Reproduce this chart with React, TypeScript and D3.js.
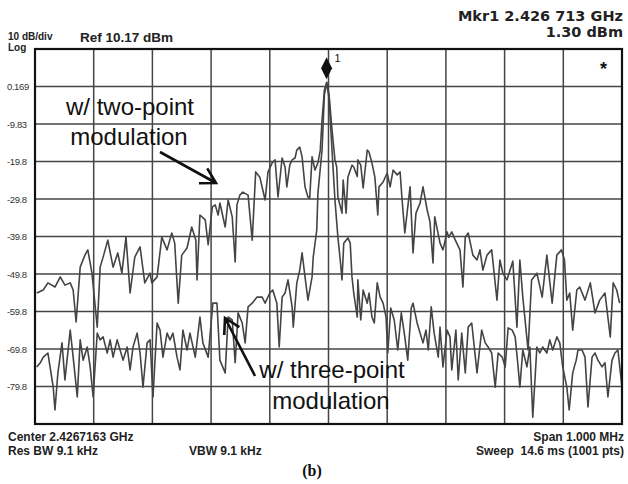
import React from "react";
import * as d3 from "d3";

// Frequency offset from center (kHz), level (dBm)
const twoPointFreq = [-497,-486,-478,-466,-457,-449,-440,-435,-430,-423,-415,-410,-403,-394,-389,-383,-376,-367,-359,-352,-345,-338,-330,-321,-313,-304,-301,-292,-284,-275,-267,-262,-256,-250,-241,-233,-226,-224,-219,-210,-205,-198,-193,-188,-185,-176,-171,-164,-159,-156,-151,-146,-137,-130,-124,-117,-108,-103,-96,-91,-86,-79,-74,-71,-66,-62,-57,-54,-49,-45,-40,-35,-32,-28,-23,-18,-14,-11,-7,-3,1,6,11,14,16,23,25,30,33,40,43,49,50,55,59,66,69,74,79,84,86,93,100,105,110,117,122,125,130,135,139,144,149,156,161,168,173,178,181,190,195,202,205,210,216,224,229,233,238,246,253,258,263,270,278,287,292,297,304,314,321,326,331,340,346,355,364,372,381,389,397,402,406,411,416,423,428,437,446,454,462,471,480,485,491,496,500];
const twoPointLevel = [-54.9,-54.1,-52.2,-53.3,-50.6,-52.8,-52.2,-54.1,-62.6,-48.0,-44.8,-43.4,-49.6,-64.0,-48.0,-44.8,-40.8,-48.0,-44.2,-49.6,-40.0,-54.9,-45.3,-42.6,-52.2,-49.6,-52.2,-50.6,-40.0,-43.4,-38.9,-41.6,-57.6,-44.8,-42.9,-37.3,-40.8,-51.4,-34.1,-35.4,-42.0,-32.0,-31.4,-34.1,-30.9,-37.3,-30.1,-34.6,-46.6,-31.4,-28.8,-28.0,-28.8,-40.8,-22.6,-24.0,-30.1,-22.6,-20.2,-19.4,-29.3,-18.9,-21.3,-26.6,-20.8,-19.4,-18.9,-16.8,-16.0,-18.6,-26.6,-29.3,-29.6,-18.6,-22.1,-20.2,-16.8,-8.8,-0.8,1.3,-2.1,-11.4,-19.4,-21.3,-29.3,-33.6,-24.8,-33.6,-24.0,-20.8,-21.3,-23.8,-19.4,-20.8,-26.9,-16.8,-17.3,-20.2,-24.0,-34.1,-26.6,-25.3,-22.9,-26.6,-22.1,-23.4,-22.6,-29.3,-38.9,-32.0,-26.6,-44.2,-33.6,-30.9,-26.6,-32.7,-36.0,-46.9,-34.6,-41.6,-43.4,-38.6,-40.0,-38.6,-40.8,-43.4,-53.3,-40.0,-38.9,-44.8,-46.1,-43.4,-48.8,-44.8,-43.4,-56.8,-46.1,-49.6,-51.4,-46.4,-64.0,-46.1,-56.0,-70.1,-51.4,-49.6,-56.0,-44.8,-57.6,-44.8,-43.4,-46.1,-56.8,-54.9,-64.8,-54.1,-53.3,-56.8,-52.2,-60.2,-56.8,-54.9,-66.6,-52.2,-54.1,-57.6];

const threePointFreq = [-497,-491,-486,-478,-469,-466,-461,-454,-449,-440,-435,-428,-423,-418,-411,-406,-401,-394,-389,-384,-377,-372,-367,-360,-355,-350,-343,-338,-333,-326,-321,-316,-309,-304,-299,-292,-287,-282,-275,-270,-265,-258,-253,-248,-241,-236,-227,-219,-214,-205,-197,-190,-185,-176,-171,-164,-159,-154,-147,-142,-137,-130,-122,-113,-108,-100,-95,-88,-84,-79,-74,-69,-62,-60,-54,-49,-45,-40,-35,-28,-26,-20,-18,-11,-7,-3,1,6,11,16,20,23,26,33,37,40,43,49,50,55,59,66,69,74,78,83,88,93,98,101,106,112,118,124,130,135,141,144,151,156,161,166,170,175,180,187,190,195,202,207,210,217,221,227,233,238,244,253,261,267,272,278,284,289,296,301,306,313,318,323,326,331,338,343,348,355,360,365,372,377,382,389,394,399,406,410,416,422,425,432,437,442,449,454,459,466,471,476,483,488,493,500];
const threePointLevel = [-74.6,-73.5,-72.0,-70.9,-80.0,-86.1,-76.2,-68.2,-78.1,-64.8,-72.0,-82.6,-67.4,-72.8,-69.3,-74.6,-82.6,-65.6,-67.4,-66.6,-70.9,-67.4,-72.0,-67.4,-70.1,-72.8,-69.3,-75.4,-69.3,-65.6,-70.9,-80.0,-68.2,-67.4,-82.6,-62.9,-64.8,-72.0,-65.6,-67.4,-65.6,-72.0,-75.4,-64.8,-70.1,-65.6,-72.0,-61.3,-68.2,-72.0,-57.6,-57.6,-72.8,-76.2,-61.3,-62.1,-73.5,-60.2,-62.9,-68.2,-58.6,-57.6,-56.0,-56.0,-57.6,-54.9,-54.1,-57.6,-69.3,-56.0,-54.9,-51.4,-58.6,-64.0,-52.2,-48.8,-44.2,-50.6,-56.8,-50.6,-45.3,-38.1,-28.2,-16.8,-2.0,1.1,-3.0,-16.8,-30.1,-40.0,-46.1,-51.4,-41.6,-40.2,-41.6,-50.6,-54.9,-61.3,-51.4,-62.1,-54.1,-57.6,-54.9,-61.3,-62.9,-52.2,-56.0,-57.6,-61.3,-70.9,-58.9,-62.1,-70.1,-60.2,-66.6,-72.8,-58.9,-57.6,-62.9,-65.6,-68.2,-64.8,-70.1,-58.6,-65.6,-72.0,-64.0,-74.6,-64.8,-66.6,-75.4,-64.8,-78.1,-65.6,-76.2,-64.0,-62.9,-76.2,-64.8,-68.2,-69.3,-70.9,-80.0,-70.9,-72.0,-74.6,-64.2,-64.8,-66.6,-74.6,-80.0,-70.1,-74.6,-69.3,-88.0,-69.3,-70.9,-69.3,-70.9,-67.4,-70.1,-66.6,-68.2,-74.6,-80.0,-86.1,-76.2,-72.8,-70.1,-70.1,-72.0,-85.3,-72.0,-70.9,-72.8,-74.6,-73.5,-82.6,-72.8,-70.9,-70.1,-80.0];

const refLevel = 10.17;
const dbPerDiv = 10;
const spanKHz = 1000;
const yTickLabels = ["0.169", "-9.83", "-19.8", "-29.8", "-39.8", "-49.8", "-59.8", "-69.8", "-79.8"];
const markerFreqGHz = 2.426713;
const centerFreqGHz = 2.4267163;
const markerLevel = 1.3;

const W = 628, H = 484;
const L = 35, R = 622, T = 49, B = 424;

function arrow(x1: number, y1: number, x2: number, y2: number, len = 17, ang = 30) {
  const a = Math.atan2(y2 - y1, x2 - x1);
  const r = (ang * Math.PI) / 180;
  const b1x = x2 - len * Math.cos(a - r), b1y = y2 - len * Math.sin(a - r);
  const b2x = x2 - len * Math.cos(a + r), b2y = y2 - len * Math.sin(a + r);
  return `M${x1},${y1}L${x2},${y2}M${b1x},${b1y}L${x2},${y2}L${b2x},${b2y}`;
}

export default function App() {
  const x = d3.scaleLinear().domain([-spanKHz / 2, spanKHz / 2]).range([L, R]);
  const y = d3.scaleLinear().domain([refLevel - 10 * dbPerDiv, refLevel]).range([B, T]);
  const line = d3.line<[number, number]>().x((d) => x(d[0])).y((d) => y(Math.max(d[1], refLevel - 100)));
  const two = twoPointFreq.map((f, i) => [f, twoPointLevel[i]] as [number, number]);
  const three = threePointFreq.map((f, i) => [f, threePointLevel[i]] as [number, number]);
  const xGrid = d3.range(-500, 501, 100);
  const yGrid = d3.range(0, 11).map((i) => refLevel - i * dbPerDiv);
  const mx = x((markerFreqGHz - centerFreqGHz) * 1e6);
  const my = y(markerLevel) - 14;
  const sans = "'Liberation Sans', Arial, sans-serif";
  const bold = "'DejaVu Sans', 'Liberation Sans', sans-serif";
  return (
    <svg width={W} height={H} style={{ position: "absolute", left: 0, top: 0, background: "#fff" }} fontFamily={sans}>
      <rect x={0} y={0} width={W} height={H} fill="#fff" />
      {xGrid.map((v) => (
        <line key={"x" + v} x1={x(v)} x2={x(v)} y1={T} y2={B} stroke="#454545" strokeWidth={1.5} />
      ))}
      {yGrid.map((v, i) => (
        <line key={"y" + i} x1={L} x2={R} y1={y(v)} y2={y(v)} stroke="#454545" strokeWidth={1.5} />
      ))}
      <path d={line(two) || ""} fill="none" stroke="#444" strokeWidth={1.6} strokeLinejoin="round" />
      <path d={line(three) || ""} fill="none" stroke="#444" strokeWidth={1.6} strokeLinejoin="round" />
      <rect x={L} y={T} width={R - L} height={B - T} fill="none" stroke="#111" strokeWidth={2.2} />
      {yTickLabels.map((t, i) => (
        <text key={t} x={7} y={y(refLevel - (i + 1) * dbPerDiv) + 3.5} fontSize={9.5} fill="#333" letterSpacing={-0.4}>{t}</text>
      ))}
      <path d={`M${mx},${my - 11}L${mx + 5.5},${my}L${mx},${my + 11}L${mx - 5.5},${my}Z`} fill="#111" />
      <text x={mx + 8} y={62} fontSize={11} fill="#111">1</text>
      <text x={600} y={75} fontSize={18} fontWeight="bold" fill="#111">*</text>
      <text x={8} y={40} fontSize={10} fontWeight="bold" fill="#222">10 dB/div</text>
      <text x={8} y={51} fontSize={10} fontWeight="bold" fill="#222">Log</text>
      <text x={80} y={42} fontSize={13.5} fontWeight="bold" fill="#222">Ref 10.17 dBm</text>
      <text x={623} y={21} fontSize={14.5} fontWeight="bold" fill="#222" textAnchor="end" fontFamily={bold}>Mkr1 2.426 713 GHz</text>
      <text x={623} y={37} fontSize={14.5} fontWeight="bold" fill="#222" textAnchor="end" fontFamily={bold}>1.30 dBm</text>
      <text x={130} y={115} fontSize={24} fill="#111" textAnchor="middle">w/ two-point</text>
      <text x={129} y={145} fontSize={24} fill="#111" textAnchor="middle">modulation</text>
      <path d={arrow(160, 152, 216, 183)} fill="none" stroke="#111" strokeWidth={2.6} />
      <text x={332} y={378} fontSize={24} fill="#111" textAnchor="middle">w/ three-point</text>
      <text x={331} y={409} fontSize={24} fill="#111" textAnchor="middle">modulation</text>
      <path d={arrow(255, 376, 225, 318)} fill="none" stroke="#111" strokeWidth={2.6} />
      <text x={8} y={441} fontSize={12} fontWeight="bold" fill="#222">Center 2.4267163 GHz</text>
      <text x={8} y={455} fontSize={12} fontWeight="bold" fill="#222">Res BW 9.1 kHz</text>
      <text x={189} y={455} fontSize={12} fontWeight="bold" fill="#222">VBW 9.1 kHz</text>
      <text x={624} y={441} fontSize={12} fontWeight="bold" fill="#222" textAnchor="end">Span 1.000 MHz</text>
      <text x={624} y={455} fontSize={12} fontWeight="bold" fill="#222" textAnchor="end" style={{ whiteSpace: "pre" }}>Sweep  14.6 ms (1001 pts)</text>
      <text x={312} y={476} fontSize={16} fontWeight="bold" fill="#111" textAnchor="middle" fontFamily="'Liberation Serif', 'Times New Roman', serif">(b)</text>
    </svg>
  );
}
